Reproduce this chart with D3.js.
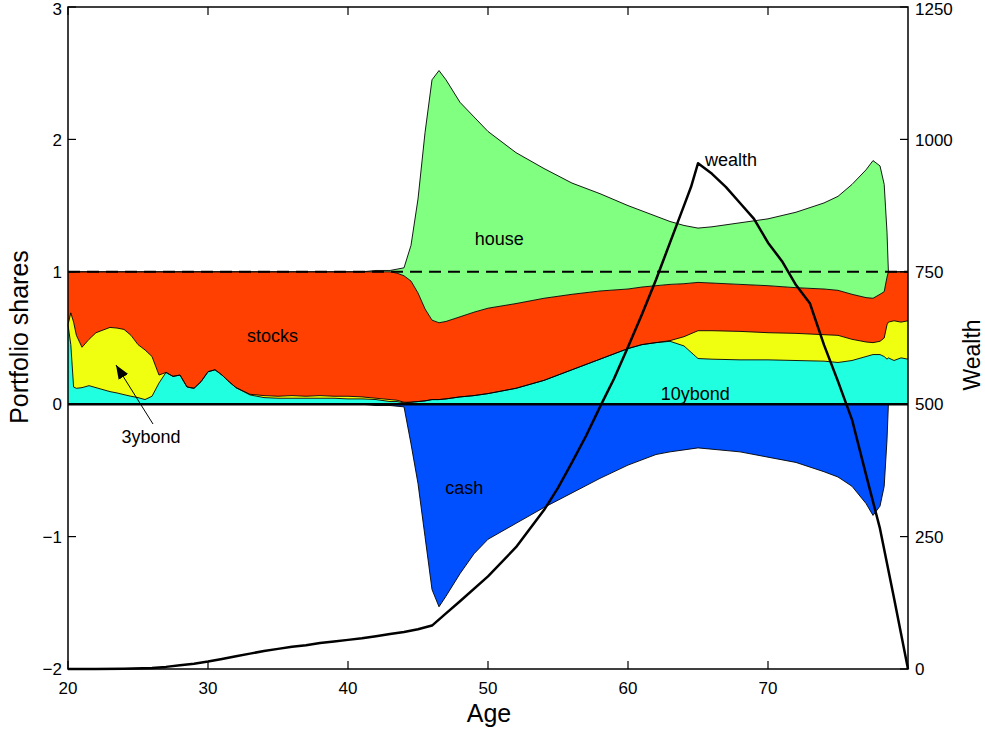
<!DOCTYPE html>
<html>
<head>
<meta charset="utf-8">
<script src="https://d3js.org/d3.v7.min.js"></script>
<style>
  body { margin: 0; background: #fff; }
  text { font-family: "Liberation Sans", Arial, sans-serif; fill: #000; }
</style>
</head>
<body>
<div id="chart"></div>
<script>
// ages at which the portfolio shares were read
var ages = [20,20.2,20.4,20.6,21,21.5,22,22.5,23,23.5,24,24.5,25,25.5,26,26.5,27,27.5,28,28.5,29,29.5,30,30.5,31,31.5,32,
  33,34,35,36,37,38,39,40,41,42,43,43.5,44,44.5,45,45.5,46,46.5,47,48,49,50,52,54,56,58,60,61,62,63,64,65,66,68,70,72,74,75,
  76,77,77.5,78,78.3,78.5,78.6,79,79.5,80];

var bond10 = [.60,.45,.13,.12,.125,.14,.125,.11,.095,.085,.072,.06,.05,.035,.06,.16,.24,.21,.22,.13,.12,.17,.245,.26,.22,.17,.125,
  .07,.05,.045,.045,.045,.045,.045,.04,.04,.035,.02,.02,.01,.015,.02,.025,.035,.035,.04,.055,.065,.08,.12,.18,.26,.34,.42,.45,.465,.475,.44,.345,.34,.335,.335,.33,.325,.315,
  .33,.36,.375,.375,.36,.34,.35,.33,.35,.34];

var bond3 = [0,.24,.49,.40,.305,.35,.415,.45,.485,.49,.493,.46,.40,.375,.30,.06,0,0,0,0,0,0,0,0,0,0,0,
  .005,.015,.015,.02,.015,.02,.015,.02,.015,.01,.015,.01,.005,0,0,0,0,0,0,0,0,0,0,0,0,0,0,0,0,.005,.07,.21,.215,.215,.205,.205,.20,.205,
  .16,.11,.09,.10,.14,.26,.27,.30,.27,.29];

var stocks = [.40,.31,.38,.48,.57,.51,.46,.44,.42,.425,.435,.48,.55,.59,.64,.78,.76,.79,.78,.87,.88,.83,.755,.74,.78,.83,.875,
  .925,.935,.94,.935,.94,.935,.94,.94,.945,.955,.965,.96,.955,.915,.82,.695,.60,.58,.585,.605,.63,.645,.64,.62,.57,.515,.45,.435,.43,.425,.40,.365,.36,.355,.355,.345,.345,.34,
  .34,.335,.335,.355,.35,.36,.38,.37,.38,.37];

var house = [0,0,0,0,0,0,0,0,0,0,0,0,0,0,0,0,0,0,0,0,0,0,0,0,0,0,0,
  0,0,0,0,0,0,0,0,0,.01,.01,.03,.06,.27,.71,1.33,1.815,1.905,1.825,1.62,1.475,1.335,1.14,.98,.84,.735,.63,.575,.525,.475,.44,.41,.425,.465,.505,.57,.65,.71,
  .83,.965,1.04,.97,.81,.34,0,0,0,0];

var cash = [0,0,0,0,0,0,0,0,0,0,0,0,0,0,0,0,0,0,0,0,0,0,0,0,0,0,0,
  0,0,0,0,0,0,0,0,0,-.01,-.01,-.015,-.02,-.30,-.60,-1.0,-1.40,-1.53,-1.45,-1.28,-1.13,-1.02,-.90,-.78,-.67,-.56,-.46,-.42,-.38,-.36,-.345,-.33,-.34,-.36,-.40,-.44,-.51,-.55,
  -.62,-.75,-.84,-.77,-.62,-.27,0,0,0,0];

// wealth (right axis)
var wealthAge = [20,22,24,26,27,28,29,30,31,32,33,34,35,36,37,38,39,40,41,42,43,44,45,46,47,48,50,52,54,55,56,57,58,59,60,61,62,63,64,64.5,65,
  66,67,68,69,70,71,72,73,74,75,76,77,78,79,80];
var wealth = [0,0,.5,2,4,7,10,14,19,24,29,34,38,42,45,49,52,55,58,62,66,70,75,82,105,128,175,230,300,342,390,440,495,548,608,670,735,805,875,910,955,
  935,910,880,850,805,770,725,690,612,543,471,367,265,134,0];

var xTicks = [20,30,40,50,60,70];
var yTicks = [-2,-1,0,1,2,3];
var wTicks = [0,250,500,750,1000,1250];

var labels = [
  {text: "house", age: 50.8, share: 1.25},
  {text: "stocks", age: 34.6, share: 0.52},
  {text: "cash", age: 48.3, share: -0.63},
  {text: "10ybond", age: 64.8, share: 0.08}
];

var W = 985, H = 731;
var svg = d3.select("#chart").append("svg").attr("width", W).attr("height", H);

var x = d3.scaleLinear().domain([20, 80]).range([68, 908]);
var y = d3.scaleLinear().domain([-2, 3]).range([669, 7]);
var yw = d3.scaleLinear().domain([0, 1250]).range([669, 7]);

// build stacked boundaries
var rows = ages.map(function(a, i) {
  var b1 = bond10[i], b2 = b1 + bond3[i], b3 = b2 + stocks[i], b4 = b3 + house[i];
  return {age: a, b1: b1, b2: b2, b3: b3, b4: b4, c: cash[i]};
});

var layers = [
  {lo: function(d){return 0;}, hi: function(d){return d.b1;}, color: "#20ffdf"},
  {lo: function(d){return d.b1;}, hi: function(d){return d.b2;}, color: "#f0ff10"},
  {lo: function(d){return d.b2;}, hi: function(d){return d.b3;}, color: "#ff4000"},
  {lo: function(d){return d.b3;}, hi: function(d){return d.b4;}, color: "#80ff80"},
  {lo: function(d){return d.c;}, hi: function(d){return 0;}, color: "#0050ff"}
];

layers.forEach(function(L) {
  var area = d3.area()
    .x(function(d){return x(d.age);})
    .y0(function(d){return y(L.lo(d));})
    .y1(function(d){return y(L.hi(d));});
  svg.append("path").datum(rows).attr("d", area).attr("fill", L.color).attr("stroke", "none");
});

// thin outlines of the boundaries
["b1", "b2", "b3", "b4", "c"].forEach(function(k) {
  var line = d3.line().x(function(d){return x(d.age);}).y(function(d){return y(d[k]);});
  svg.append("path").datum(rows).attr("d", line)
    .attr("fill", "none").attr("stroke", "#000").attr("stroke-width", 0.9);
});

// zero line and dashed line at 1
svg.append("line").attr("x1", x(20)).attr("x2", x(80)).attr("y1", y(0)).attr("y2", y(0))
  .attr("stroke", "#000").attr("stroke-width", 2.5);
svg.append("line").attr("x1", x(20)).attr("x2", x(80)).attr("y1", y(1)).attr("y2", y(1))
  .attr("stroke", "#000").attr("stroke-width", 2).attr("stroke-dasharray", "12,7");

// wealth line
var wline = d3.line().x(function(d){return x(d[0]);}).y(function(d){return yw(d[1]);});
svg.append("path").datum(d3.zip(wealthAge, wealth)).attr("d", wline)
  .attr("fill", "none").attr("stroke", "#000").attr("stroke-width", 2.5).attr("stroke-linejoin", "round");

// labels
labels.forEach(function(l) {
  svg.append("text").attr("x", x(l.age)).attr("y", y(l.share)).attr("text-anchor", "middle")
    .attr("dy", "0.35em").style("font-size", "18px").text(l.text);
});
svg.append("text").attr("x", x(65.5)).attr("y", yw(955)).attr("dy", "0.15em")
  .style("font-size", "18px").text("wealth");

// 3ybond annotation with arrow
svg.append("defs").append("marker").attr("id", "ah").attr("viewBox", "0 0 10 10")
  .attr("refX", 10).attr("refY", 5).attr("markerWidth", 14).attr("markerHeight", 14)
  .attr("markerUnits", "userSpaceOnUse").attr("orient", "auto")
  .append("path").attr("d", "M0,1 L10,5 L0,9 Z").attr("fill", "#000");
svg.append("line").attr("x1", 153).attr("y1", 424).attr("x2", 116).attr("y2", 365)
  .attr("stroke", "#000").attr("stroke-width", 1).attr("marker-end", "url(#ah)");
svg.append("text").attr("x", 151).attr("y", 437).attr("text-anchor", "middle").attr("dy", "0.35em")
  .style("font-size", "18px").text("3ybond");

// axes frame
svg.append("rect").attr("x", 68).attr("y", 7).attr("width", 840).attr("height", 662)
  .attr("fill", "none").attr("stroke", "#000").attr("stroke-width", 1.5);

var tl = 8;
xTicks.forEach(function(t) {
  svg.append("line").attr("x1", x(t)).attr("x2", x(t)).attr("y1", 669).attr("y2", 669 - tl)
    .attr("stroke", "#000").attr("stroke-width", 1.2);
  svg.append("line").attr("x1", x(t)).attr("x2", x(t)).attr("y1", 7).attr("y2", 7 + tl)
    .attr("stroke", "#000").attr("stroke-width", 1.2);
  svg.append("text").attr("x", x(t)).attr("y", 688).attr("text-anchor", "middle").attr("dy", "0.35em")
    .style("font-size", "17px").text(t);
});
yTicks.forEach(function(t) {
  svg.append("line").attr("x1", 68).attr("x2", 68 + tl).attr("y1", y(t)).attr("y2", y(t))
    .attr("stroke", "#000").attr("stroke-width", 1.2);
  svg.append("text").attr("x", 62).attr("y", Math.max(y(t), 9)).attr("text-anchor", "end").attr("dy", "0.36em")
    .style("font-size", "17px").text(t < 0 ? "\u2212" + Math.abs(t) : t);
});
wTicks.forEach(function(t) {
  svg.append("line").attr("x1", 908).attr("x2", 908 - tl).attr("y1", yw(t)).attr("y2", yw(t))
    .attr("stroke", "#000").attr("stroke-width", 1.2);
  svg.append("text").attr("x", 915).attr("y", Math.max(yw(t), 9)).attr("text-anchor", "start").attr("dy", "0.36em")
    .style("font-size", "17px").text(t);
});

// axis titles
svg.append("text").attr("x", 489).attr("y", 713).attr("text-anchor", "middle").attr("dy", "0.35em")
  .style("font-size", "25px").text("Age");
svg.append("text").attr("transform", "translate(28,337) rotate(-90)").attr("text-anchor", "middle")
  .style("font-size", "25px").text("Portfolio shares");
svg.append("text").attr("transform", "translate(980,355) rotate(-90)").attr("text-anchor", "middle")
  .style("font-size", "23px").text("Wealth");
</script>
</body>
</html>
